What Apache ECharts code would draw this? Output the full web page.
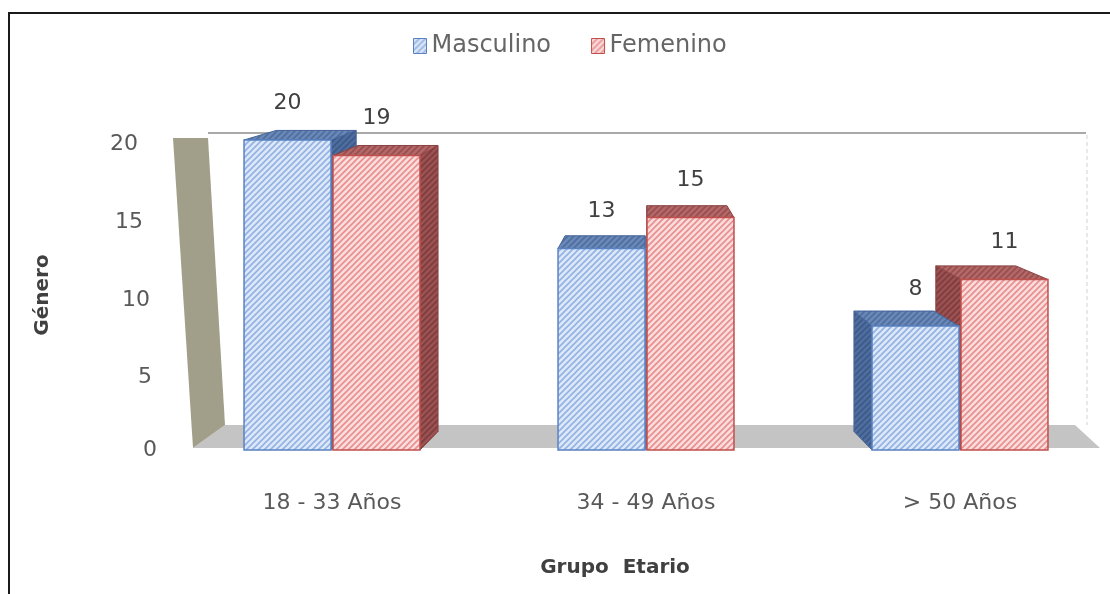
<!DOCTYPE html>
<html>
<head>
<meta charset="utf-8">
<script src="https://cdn.jsdelivr.net/npm/echarts@6/dist/echarts.min.js"></script>
<style>
	html, body { margin: 0; padding: 0; background: #fff; }
	#chart { width: 1110px; height: 594px; }
</style>
</head>
<body>
<div id="chart"></div>
<script>
// ---------- DATA ----------
var ageGroups = ['18 - 33 Años', '34 - 49 Años', '> 50 Años'];
var masculino = [20, 13, 8];
var femenino = [19, 15, 11];
var yTicks = [0, 5, 10, 15, 20];

var FONT = 'DejaVu Sans';

// diagonal hatch fill, like the excel pattern
function hatch(bg, line) {
	var c = document.createElement('canvas');
	c.width = 6;
	c.height = 6;
	var ctx = c.getContext('2d');
	ctx.fillStyle = bg;
	ctx.fillRect(0, 0, 6, 6);
	ctx.strokeStyle = line;
	ctx.lineWidth = 1.6;
	ctx.beginPath();
	ctx.moveTo(-1, 7); ctx.lineTo(7, -1);
	ctx.moveTo(-1, 1); ctx.lineTo(1, -1);
	ctx.moveTo(5, 7); ctx.lineTo(7, 5);
	ctx.stroke();
	return { image: c, repeat: 'repeat' };
}

var bluePal = {
	front: hatch('#dce8f8', '#93b2e3'),
	border: '#5a82c2',
	top: hatch('#6a89b9', '#4f6e9e'),
	side: hatch('#4f6e9e', '#3c5a88'),
	edge: '#44639a'
};
var redPal = {
	front: hatch('#fbdcdc', '#e78f8f'),
	border: '#c0504d',
	top: hatch('#b46868', '#974e4e'),
	side: hatch('#9c5252', '#7e3c3c'),
	edge: '#8a4242'
};

// ---------- 3D BOX ----------
var BAR_W = 0.277;
var KX = 0.08, KY = 0.029;

function boxRenderer(which, pal) {
	return function (params, api) {
		var cs = params.coordSys;
		var vx = cs.x + cs.width / 2;
		var vy = cs.y - 330;
		var cat = api.value(0), val = api.value(1);
		var base = api.coord([cat, 0]);
		var tip = api.coord([cat, val]);
		var w = api.size([1, 0])[0] * BAR_W;
		var x0 = which === 0 ? base[0] - w - 1 : base[0] + 1;
		var x1 = x0 + w;
		var yT = tip[1], yB = base[1];
		function back(x, y) {
			return [x + (vx - x) * KX, y + (vy - y) * KY];
		}
		var children = [];
		var sx = x1 < vx ? x1 : (x0 > vx ? x0 : null);
		if (sx !== null) {
			children.push({
				type: 'polygon', z2: 1,
				shape: { points: [[sx, yT], [sx, yB], back(sx, yB), back(sx, yT)] },
				style: { fill: pal.side, stroke: pal.edge, lineWidth: 1 }
			});
		}
		children.push({
			type: 'polygon', z2: 2,
			shape: { points: [[x0, yT], [x1, yT], back(x1, yT), back(x0, yT)] },
			style: { fill: pal.top, stroke: pal.edge, lineWidth: 1 }
		});
		children.push({
			type: 'rect', z2: 10,
			shape: { x: x0, y: yT, width: w, height: yB - yT },
			style: { fill: pal.front, stroke: pal.border, lineWidth: 1.5 },
			textContent: {
				style: { text: String(val), fontFamily: FONT, fontSize: 22, fill: '#404040' }
			},
			textConfig: { position: 'top', distance: 25 }
		});
		return { type: 'group', children: children };
	};
}

function toData(values) {
	return values.map(function (v, i) { return [i, v]; });
}

// labels lean with the wall: more right padding higher up, a little drop
var labelPad = { 0: 0, 5: 5, 10: 7, 15: 14, 20: 19 };
var labelDrop = { 0: 0, 5: 10, 10: 10, 15: 10, 20: 8 };
var richPad = {};
yTicks.forEach(function (t) {
	richPad['p' + t] = {
		padding: [labelDrop[t], labelPad[t], 0, 0],
		fontFamily: FONT, fontSize: 22, color: '#595959'
	};
});

var chart = echarts.init(document.getElementById('chart'));

var option = {
	animation: false,
	legend: {
		top: 29,
		left: 408,
		icon: 'rect',
		itemWidth: 13,
		itemHeight: 15,
		itemGap: 40,
		textStyle: { fontFamily: FONT, fontSize: 24, color: '#666666' },
		data: [
			{ name: 'Masculino', itemStyle: { color: bluePal.front, borderColor: bluePal.border, borderWidth: 1 } },
			{ name: 'Femenino', itemStyle: { color: redPal.front, borderColor: redPal.border, borderWidth: 1 } }
		]
	},
	grid: {
		left: 175,
		width: 942,
		top: 140,
		bottom: 144,
		outerBoundsMode: 'none'
	},
	xAxis: {
		type: 'category',
		data: ageGroups,
		axisLine: { show: false },
		axisTick: { show: false },
		axisLabel: { margin: 42, fontFamily: FONT, fontSize: 22, color: '#595959' },
		name: 'Grupo  Etario',
		nameLocation: 'middle',
		nameGap: 108,
		nameTextStyle: { fontFamily: FONT, fontSize: 20, fontWeight: 'bold', color: '#404040', padding: [0, 62, 0, 0] }
	},
	yAxis: {
		type: 'value',
		min: 0,
		max: 20,
		interval: 5,
		axisLine: { show: false },
		axisTick: { show: false },
		splitLine: { show: false },
		axisLabel: {
			margin: 18,
			formatter: function (v) { return '{p' + v + '|' + v + '}'; },
			rich: richPad
		},
		name: 'Género',
		nameLocation: 'middle',
		nameRotate: 90,
		nameGap: 122,
		nameTextStyle: { fontFamily: FONT, fontSize: 20, fontWeight: 'bold', color: '#404040' }
	},
	series: [
		{
			name: 'Masculino',
			type: 'custom',
			renderItem: boxRenderer(0, bluePal),
			itemStyle: { color: bluePal.front },
			encode: { x: 0, y: 1 },
			data: toData(masculino)
		},
		{
			name: 'Femenino',
			type: 'custom',
			renderItem: boxRenderer(1, redPal),
			itemStyle: { color: redPal.front },
			encode: { x: 0, y: 1 },
			data: toData(femenino)
		}
	]
};

chart.setOption(option);

// walls, floor and frame, placed from the axis scale
var y0 = chart.convertToPixel({ yAxisIndex: 0 }, 0);
var y20 = chart.convertToPixel({ yAxisIndex: 0 }, 20);

chart.setOption({
	graphic: [
		{
			type: 'polygon', z: 0,
			shape: { points: [[193, y0 - 2], [225, y0 - 25], [1075, y0 - 25], [1100, y0 - 2]] },
			style: { fill: '#c4c4c4' }
		},
		{
			type: 'polygon', z: 0,
			shape: { points: [[173, y20 - 2], [208, y20 - 2], [225, y0 - 25], [193, y0 - 2]] },
			style: { fill: '#a19f8a' }
		},
		{
			type: 'line', z: 0,
			shape: { x1: 208, y1: y20 - 7, x2: 1086, y2: y20 - 7 },
			style: { stroke: '#8c8c8c', lineWidth: 1.5 }
		},
		{
			type: 'line', z: 0,
			shape: { x1: 1087, y1: y20 - 5, x2: 1087, y2: y0 - 25 },
			style: { stroke: '#d2d2d2', lineWidth: 1, lineDash: [4, 3] }
		},
		{
			type: 'rect', z: 0,
			shape: { x: 9, y: 13, width: 1200, height: 700 },
			style: { fill: 'none', stroke: '#1a1a1a', lineWidth: 2 }
		}
	]
});
</script>
</body>
</html>
